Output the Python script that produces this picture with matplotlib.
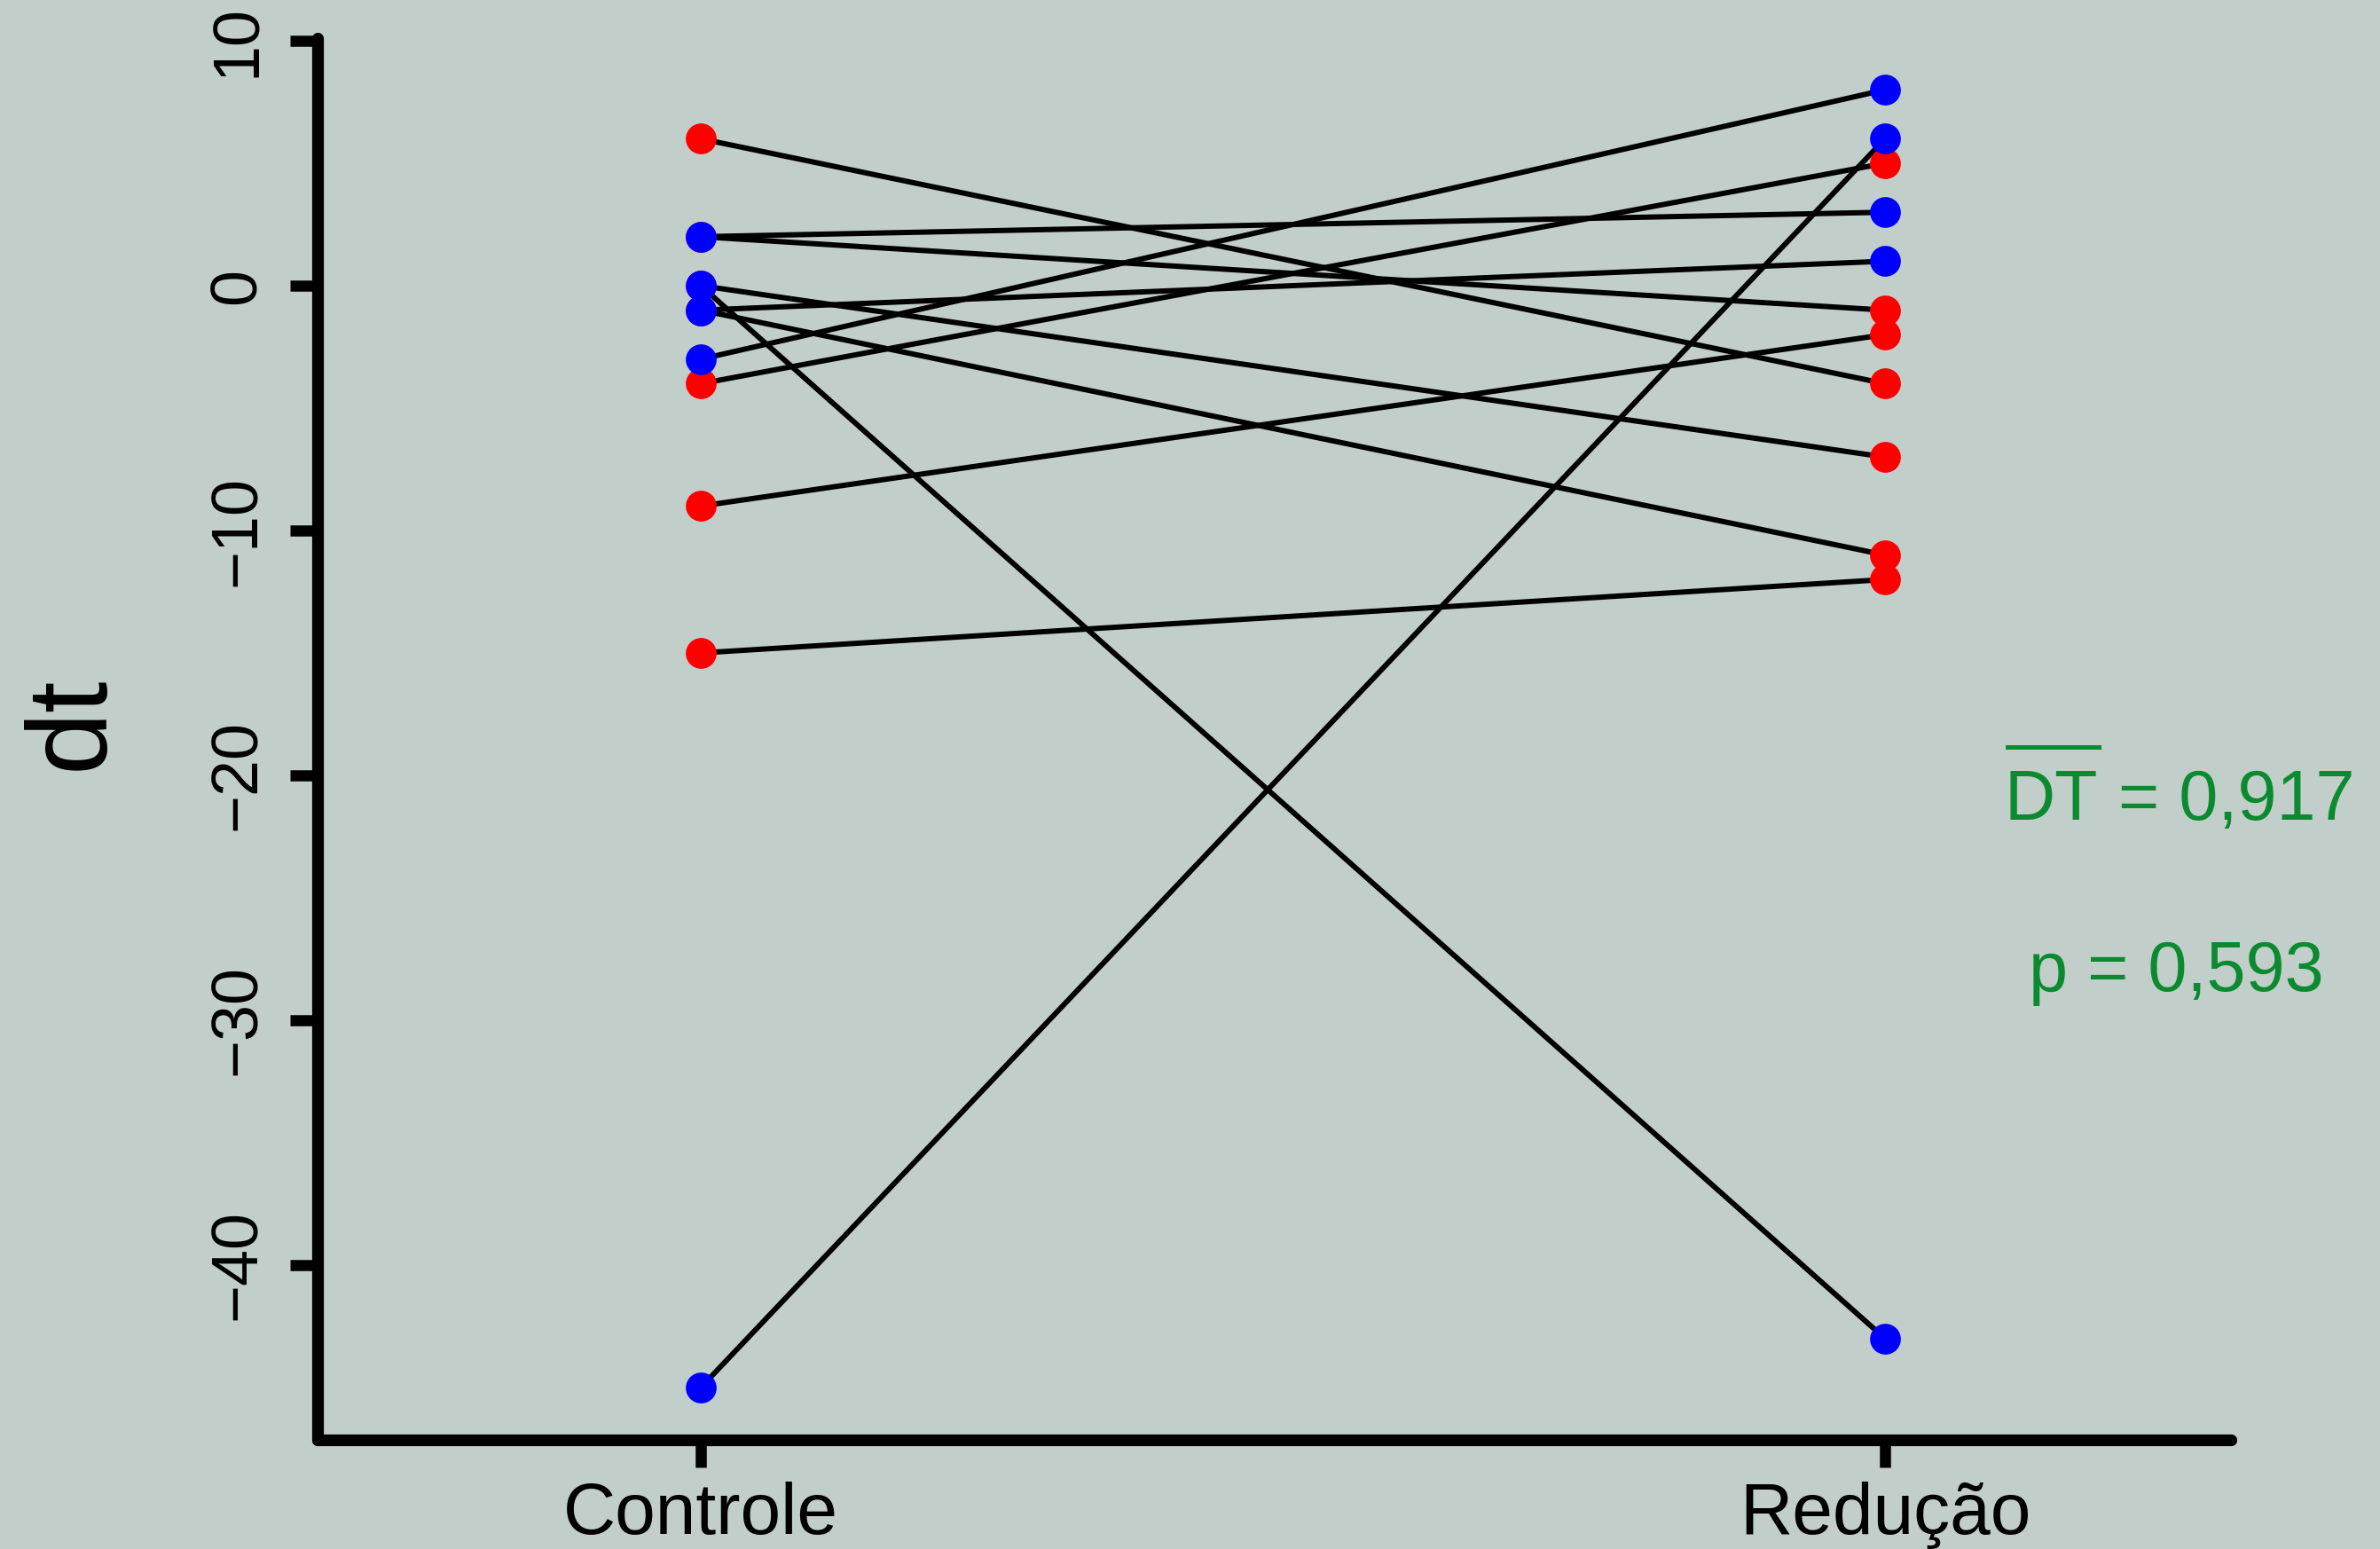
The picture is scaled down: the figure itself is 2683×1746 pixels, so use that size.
import matplotlib
matplotlib.use("Agg")
import matplotlib.pyplot as plt
from matplotlib.lines import Line2D

# ---- data ----
groups = ["Controle", "Redução"]
controle = [6, 2, 2, 0, 0, -1, -1, -3, -4, -9, -15, -45]
reducao = [-4, 3, -1, -7, -43, 1, -11, 8, 5, -2, -12, 6]
subject_color = ["red", "blue", "red", "red", "blue", "blue", "red",
                 "blue", "red", "red", "red", "blue"]
y_ticks = [-40, -30, -20, -10, 0, 10]
mean_text = "0,917"
p_text = "0,593"

plt.rcParams["font.family"] = ["Liberation Sans", "DejaVu Sans"]

bg = "#c1cec9"
W, H = 2683, 1746
fig = plt.figure(figsize=(W / 100, H / 100), dpi=100, facecolor=bg)
left, right, top, bottom = 358, 2515, 42.7, 1622.5
ax = fig.add_axes([left / W, 1 - bottom / H, (right - left) / W, (bottom - top) / H])
ax.set_facecolor(bg)

xpos = [1, 2]
for c, r in zip(controle, reducao):
    ax.plot(xpos, [c, r], color="black", lw=4.3, zorder=2, solid_capstyle="butt")

for col, z in (("red", 3), ("blue", 4)):
    for c, r, sc in zip(controle, reducao, subject_color):
        if sc == col:
            ax.plot(xpos, [c, r], linestyle="none", marker="o", ms=25,
                    mfc=col, mec=col, mew=0, zorder=z)

ax.set_xlim(0.6764, 2.2921)
ax.set_ylim(-47.12, 10.12)

for s in ("top", "right"):
    ax.spines[s].set_visible(False)
for s in ("left", "bottom"):
    ax.spines[s].set_linewidth(9.5)
    ax.spines[s].set_capstyle("round")

ax.set_yticks(y_ticks)
ax.set_yticklabels([str(v).replace("-", "\u2212") for v in y_ticks],
                   rotation=90, va="center", fontsize=53)
ax.set_xticks(xpos)
ax.set_xticklabels(groups, fontsize=59)
ax.tick_params(axis="y", length=22, width=9, pad=18)
ax.tick_params(axis="x", length=22, width=9, pad=12)

ax.set_ylabel("dt", fontsize=92)
ax.yaxis.set_label_coords(-0.100, 0.511)

green = "#0b8a30"
fs = 57
t1 = fig.text(2260 / W, 1 - 924 / H, "DT", color=green, fontsize=fs,
              ha="left", va="baseline")
fig.canvas.draw()
r = fig.canvas.get_renderer()
bb = t1.get_window_extent(renderer=r)
fig.text(bb.x1 / W, 1 - 924 / H, " = " + mean_text, color=green, fontsize=fs,
         ha="left", va="baseline")
fig.add_artist(Line2D([bb.x0 / W + 0.001, bb.x1 / W], [1 - 842 / H, 1 - 842 / H],
                      transform=fig.transFigure, color=green, lw=3.6))
fig.text(2287 / W, 1 - 1117 / H, "p = " + p_text,
         color=green, fontsize=fs, ha="left", va="baseline")

fig.savefig("out.png", dpi=100, facecolor=bg)
